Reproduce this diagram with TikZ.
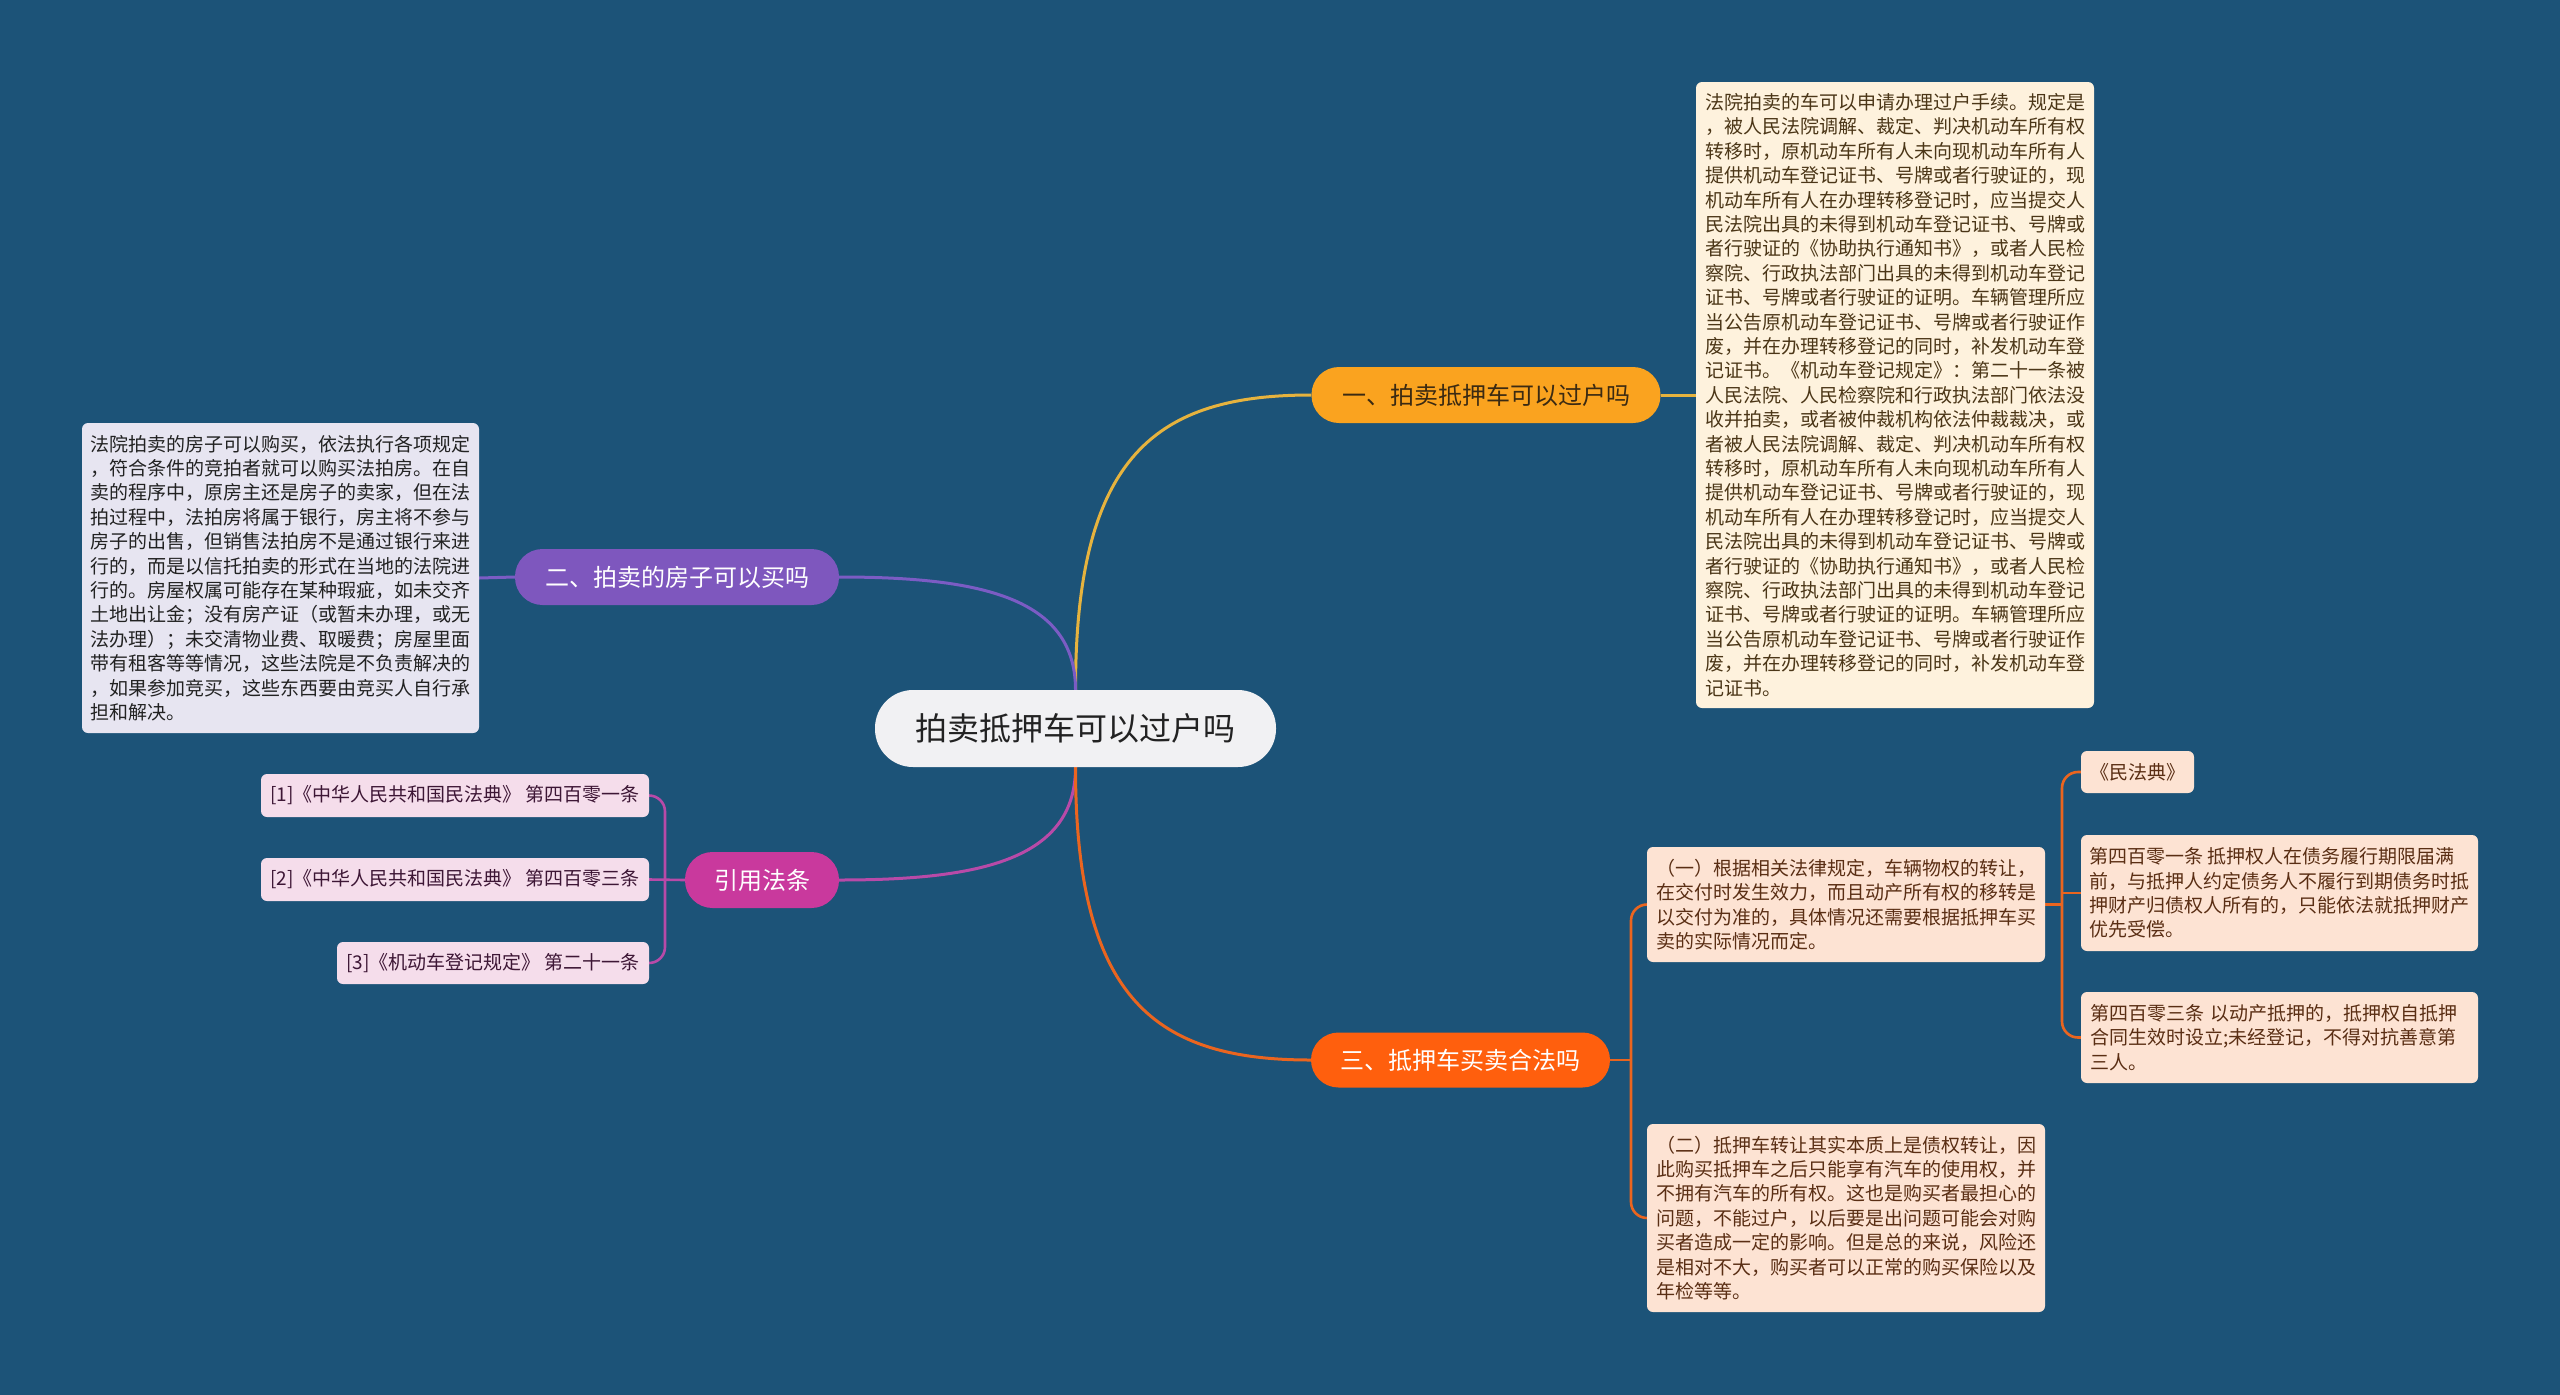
\documentclass[tikz,border=0pt]{standalone}
\usepackage{fontspec}
\setmainfont{Noto Sans CJK SC}
\usetikzlibrary{calc}
\definecolor{bg}{HTML}{1C5378}
\definecolor{cfill}{HTML}{F1F1F3}
\definecolor{ctext}{HTML}{222222}
\definecolor{c1fill}{HTML}{FAA31F}
\definecolor{c1text}{HTML}{3B2A12}
\definecolor{l1}{HTML}{E6B33E}
\definecolor{t1fill}{HTML}{FEF2DD}
\definecolor{t1text}{HTML}{4B3617}
\definecolor{c2fill}{HTML}{7E57BE}
\definecolor{l2}{HTML}{7B5CC4}
\definecolor{t2fill}{HTML}{E7E5F1}
\definecolor{t2text}{HTML}{222222}
\definecolor{c4fill}{HTML}{C9399D}
\definecolor{l4}{HTML}{B84AA8}
\definecolor{rfill}{HTML}{F5DDEB}
\definecolor{rtext}{HTML}{3D1635}
\definecolor{c3fill}{HTML}{FF5F0D}
\definecolor{l3}{HTML}{EA651F}
\definecolor{sfill}{HTML}{FDE3D3}
\definecolor{stext}{HTML}{5A2E14}
\pgfdeclarelayer{back}
\pgfsetlayers{back,main}
\begin{document}
\begin{tikzpicture}[x=1pt,y=-1pt,
  mainnode/.style={rectangle, fill=cfill, text=ctext, rounded corners=38pt, inner sep=0pt,
    minimum width=401pt, minimum height=77pt, font=\fontsize{32pt}{38pt}\selectfont},
  lvl/.style={rectangle, rounded corners=27.5pt, inner sep=0pt, minimum height=56pt,
    font=\fontsize{24pt}{28pt}\selectfont},
  txtbox/.style={rectangle, rounded corners=6pt, inner sep=0pt, align=left,
    font=\fontsize{19pt}{24.4pt}\selectfont},
  ln/.style={line width=3pt},
  sln/.style={line width=2.6pt, rounded corners=16pt}]
\begin{pgfonlayer}{back}
\fill[bg] (0,0) rectangle (2560,1395);
\end{pgfonlayer}
\useasboundingbox (0,0) rectangle (2560,1395);

% central and first level
\node[mainnode] (c) at (1075.5,728.5) {拍卖抵押车可以过户吗};
\node[lvl, fill=c1fill, text=c1text, minimum width=349pt] (a1) at (1486,395) {一、拍卖抵押车可以过户吗};
\node[lvl, fill=c2fill, text=white, minimum width=324pt] (a2) at (677,577) {二、拍卖的房子可以买吗};
\node[lvl, fill=c3fill, text=white, minimum width=299pt, minimum height=55pt] (a3) at (1460.5,1060) {三、抵押车买卖合法吗};
\node[lvl, fill=c4fill, text=white, minimum width=154pt] (a4) at (762,880) {引用法条};

% branch one text
\node[txtbox, fill=t1fill, text=t1text, minimum width=398pt, minimum height=626pt] (t1) at (1895,395) {%
法院拍卖的车可以申请办理过户手续。规定是\\
，被人民法院调解、裁定、判决机动车所有权\\
转移时，原机动车所有人未向现机动车所有人\\
提供机动车登记证书、号牌或者行驶证的，现\\
机动车所有人在办理转移登记时，应当提交人\\
民法院出具的未得到机动车登记证书、号牌或\\
者行驶证的《协助执行通知书》，或者人民检\\
察院、行政执法部门出具的未得到机动车登记\\
证书、号牌或者行驶证的证明。车辆管理所应\\
当公告原机动车登记证书、号牌或者行驶证作\\
废，并在办理转移登记的同时，补发机动车登\\
记证书。《机动车登记规定》：第二十一条被\\
人民法院、人民检察院和行政执法部门依法没\\
收并拍卖，或者被仲裁机构依法仲裁裁决，或\\
者被人民法院调解、裁定、判决机动车所有权\\
转移时，原机动车所有人未向现机动车所有人\\
提供机动车登记证书、号牌或者行驶证的，现\\
机动车所有人在办理转移登记时，应当提交人\\
民法院出具的未得到机动车登记证书、号牌或\\
者行驶证的《协助执行通知书》，或者人民检\\
察院、行政执法部门出具的未得到机动车登记\\
证书、号牌或者行驶证的证明。车辆管理所应\\
当公告原机动车登记证书、号牌或者行驶证作\\
废，并在办理转移登记的同时，补发机动车登\\
记证书。};

% branch two text
\node[txtbox, fill=t2fill, text=t2text, minimum width=397pt, minimum height=310pt] (t2) at (280.5,578) {%
法院拍卖的房子可以购买，依法执行各项规定\\
，符合条件的竞拍者就可以购买法拍房。在自\\
卖的程序中，原房主还是房子的卖家，但在法\\
拍过程中，法拍房将属于银行，房主将不参与\\
房子的出售，但销售法拍房不是通过银行来进\\
行的，而是以信托拍卖的形式在当地的法院进\\
行的。房屋权属可能存在某种瑕疵，如未交齐\\
土地出让金；没有房产证（或暂未办理，或无\\
法办理）；未交清物业费、取暖费；房屋里面\\
带有租客等等情况，这些法院是不负责解决的\\
，如果参加竞买，这些东西要由竞买人自行承\\
担和解决。};

% branch three
\node[txtbox, fill=sfill, text=stext, minimum width=398pt, minimum height=115pt] (s1) at (1846,904.5) {%
（一）根据相关法律规定，车辆物权的转让，\\
在交付时发生效力，而且动产所有权的移转是\\
以交付为准的，具体情况还需要根据抵押车买\\
卖的实际情况而定。};
\node[txtbox, fill=sfill, text=stext, minimum width=398pt, minimum height=188pt] (s2) at (1846,1218) {%
（二）抵押车转让其实本质上是债权转让，因\\
此购买抵押车之后只能享有汽车的使用权，并\\
不拥有汽车的所有权。这也是购买者最担心的\\
问题，不能过户，以后要是出问题可能会对购\\
买者造成一定的影响。但是总的来说，风险还\\
是相对不大，购买者可以正常的购买保险以及\\
年检等等。};
\node[txtbox, fill=sfill, text=stext, minimum width=113pt, minimum height=42pt] (m0) at (2137.5,772) {《民法典》};
\node[txtbox, fill=sfill, text=stext, minimum width=397pt, minimum height=116pt] (m1) at (2279.5,893) {%
第四百零一条 抵押权人在债务履行期限届满\\
前，与抵押人约定债务人不履行到期债务时抵\\
押财产归债权人所有的，只能依法就抵押财产\\
优先受偿。};
\node[txtbox, fill=sfill, text=stext, text width=379pt, inner xsep=9pt, minimum height=91pt] (m2) at (2279.5,1037.5) {%
第四百零三条 以动产抵押的，抵押权自抵押\\
合同生效时设立;未经登记，不得对抗善意第\\
三人。};

% citations
\node[txtbox, fill=rfill, text=rtext, minimum width=388pt, minimum height=43pt] (r1) at (455,795.5) {[1]《中华人民共和国民法典》 第四百零一条};
\node[txtbox, fill=rfill, text=rtext, minimum width=388pt, minimum height=43pt] (r2) at (455,879.5) {[2]《中华人民共和国民法典》 第四百零三条};
\node[txtbox, fill=rfill, text=rtext, minimum width=312pt, minimum height=42pt] (r3) at (493,963) {[3]《机动车登记规定》 第二十一条};

% junctions
\coordinate (j3) at (1631,1060);
\coordinate (j1) at (2062,904.5);
\coordinate (jy) at (665,880);

\begin{pgfonlayer}{back}
\draw[ln, draw=l1] (c.north) .. controls +(0,-236) and +(-154,0) .. (a1.west);
\draw[ln, draw=l2] (c.north) .. controls +(0,-92) and +(142,0) .. (a2.east);
\draw[ln, draw=l4] (c.south) .. controls +(0,92) and +(142,0) .. (a4.east);
\draw[ln, draw=l3] (c.south) .. controls +(0,234) and +(-154,0) .. (a3.west);
\draw[ln, draw=l1] (a1.east) -- (t1.west);
\draw[ln, draw=l2] (a2.west) -- (t2.east);
% branch three fork
\draw[sln, draw=l3] (a3.east) -- (j3);
\draw[sln, draw=l3] (s1.west) -| (j3) |- (s2.west);
\draw[sln, draw=l3] (s1.east) -- (j1);
\draw[sln, draw=l3] (m0.west) -| (j1) |- (m2.west);
\draw[sln, draw=l3] (j1 |- m1.west) -- (m1.west);
% citation fork
\draw[sln, draw=l4] (a4.west) -- (r2.east);
\draw[sln, draw=l4] (r1.east) -| (jy) |- (r3.east);
\end{pgfonlayer}
\end{tikzpicture}
\end{document}
